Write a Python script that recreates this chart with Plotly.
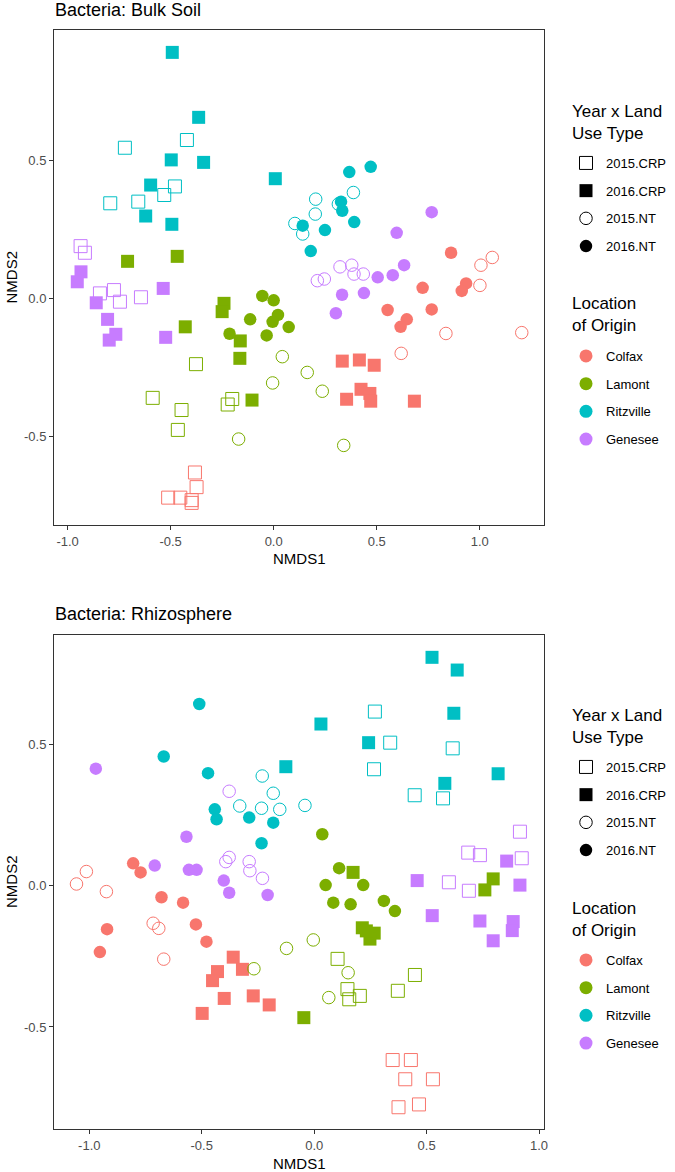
import plotly.graph_objects as go

# ---------------- data: Bacteria, Bulk Soil ----------------
TYPES = ["2015.CRP", "2016.CRP", "2015.NT", "2016.NT"]
LOCATIONS = ["Colfax", "Lamont", "Ritzville", "Genesee"]

BULK_COLFAX_X = [-0.382, -0.374, -0.512, -0.453, -0.398, -0.398,
                 0.333, 0.416, 0.488, 0.424, 0.467, 0.471, 0.354, 0.683,
                 0.836, 1.204, 0.619, 1.001, 1.006, 1.061,
                 0.723, 0.553, 0.646, 0.616, 0.767, 0.934, 0.913, 0.861]
BULK_COLFAX_Y = [-0.630, -0.683, -0.721, -0.721, -0.730, -0.740,
                 -0.227, -0.223, -0.242, -0.329, -0.344, -0.372, -0.365, -0.372,
                 -0.127, -0.124, -0.199, 0.047, 0.120, 0.148,
                 0.038, -0.042, -0.076, -0.103, -0.040, 0.054, 0.027, 0.165]
BULK_COLFAX_T = ["2015.CRP", "2015.CRP", "2015.CRP", "2015.CRP", "2015.CRP", "2015.CRP",
                 "2016.CRP", "2016.CRP", "2016.CRP", "2016.CRP", "2016.CRP", "2016.CRP", "2016.CRP", "2016.CRP",
                 "2015.NT", "2015.NT", "2015.NT", "2015.NT", "2015.NT", "2015.NT",
                 "2016.NT", "2016.NT", "2016.NT", "2016.NT", "2016.NT", "2016.NT", "2016.NT", "2016.NT"]

BULK_LAMONT_X = [-0.377, -0.587, -0.201, -0.223, -0.447, -0.465,
                 -0.709, -0.468, -0.241, -0.250, -0.429, -0.162, -0.164, -0.105,
                 0.042, -0.005, -0.170, 0.163, 0.236, 0.340,
                 -0.055, 0.000, 0.021, -0.005, -0.114, 0.073, -0.214, -0.034]
BULK_LAMONT_Y = [-0.238, -0.360, -0.364, -0.384, -0.404, -0.476,
                 0.134, 0.152, -0.018, -0.048, -0.103, -0.154, -0.217, -0.368,
                 -0.211, -0.306, -0.509, -0.268, -0.336, -0.532,
                 0.009, -0.007, -0.060, -0.085, -0.076, -0.104, -0.128, -0.134]
BULK_LAMONT_T = BULK_COLFAX_T[:]

BULK_RITZVILLE_X = [-0.421, -0.722, -0.479, -0.531, -0.793, -0.657,
                    -0.492, -0.364, -0.497, -0.340, 0.008, -0.597, -0.621, -0.494,
                    0.387, 0.204, 0.202, 0.314, 0.103, 0.141,
                    0.367, 0.471, 0.327, 0.333, 0.391, 0.249, 0.141, 0.180]
BULK_RITZVILLE_Y = [0.573, 0.545, 0.405, 0.374, 0.344, 0.350,
                    0.890, 0.655, 0.501, 0.492, 0.433, 0.410, 0.298, 0.268,
                    0.383, 0.359, 0.305, 0.341, 0.271, 0.233,
                    0.457, 0.476, 0.350, 0.317, 0.276, 0.247, 0.263, 0.171]
BULK_RITZVILLE_T = BULK_COLFAX_T[:]

BULK_GENESEE_X = [-0.937, -0.916, -0.843, -0.775, -0.746, -0.644,
                  -0.935, -0.953, -0.861, -0.536, -0.806, -0.766, -0.798, -0.524,
                  0.212, 0.246, 0.322, 0.379, 0.390, 0.435,
                  0.505, 0.578, 0.633, 0.332, 0.438, 0.302, 0.767, 0.597]
BULK_GENESEE_Y = [0.189, 0.165, 0.018, 0.030, -0.012, 0.004,
                  0.096, 0.060, -0.016, 0.036, -0.076, -0.130, -0.151, -0.141,
                  0.064, 0.070, 0.114, 0.120, 0.088, 0.088,
                  0.076, 0.084, 0.120, 0.013, 0.019, -0.054, 0.312, 0.237]
BULK_GENESEE_T = BULK_COLFAX_T[:]

# ---------------- data: Bacteria, Rhizosphere ----------------
RHIZO_COLFAX_X = [0.349, 0.430, 0.405, 0.528, 0.375, 0.466,
                  -0.360, -0.430, -0.452, -0.319, -0.400, -0.271, -0.200, -0.498,
                  -1.057, -1.013, -0.924, -0.716, -0.691, -0.669,
                  -0.805, -0.772, -0.679, -0.583, -0.526, -0.479, -0.921, -0.953]
RHIZO_COLFAX_Y = [-0.617, -0.617, -0.685, -0.685, -0.784, -0.774,
                  -0.253, -0.304, -0.336, -0.296, -0.399, -0.390, -0.422, -0.452,
                  0.006, 0.050, -0.021, -0.133, -0.151, -0.260,
                  0.079, 0.047, -0.041, -0.060, -0.137, -0.198, -0.154, -0.235]
RHIZO_COLFAX_T = BULK_COLFAX_T[:]

RHIZO_LAMONT_X = [0.104, 0.148, 0.156, 0.203, 0.372, 0.448,
                  0.173, 0.214, 0.267, 0.248, 0.232, -0.046, 0.759, 0.796,
                  -0.268, -0.123, -0.004, 0.151, 0.065,
                  0.036, 0.111, 0.051, 0.218, 0.085, 0.162, 0.310, 0.359]
RHIZO_LAMONT_Y = [-0.259, -0.366, -0.402, -0.390, -0.372, -0.316,
                  0.047, -0.149, -0.168, -0.189, -0.160, -0.467, -0.015, 0.024,
                  -0.294, -0.222, -0.192, -0.308, -0.396,
                  0.182, 0.062, 0.002, 0.002, -0.060, -0.066, -0.054, -0.090]
RHIZO_LAMONT_T = ["2015.CRP", "2015.CRP", "2015.CRP", "2015.CRP", "2015.CRP", "2015.CRP",
                  "2016.CRP", "2016.CRP", "2016.CRP", "2016.CRP", "2016.CRP", "2016.CRP", "2016.CRP", "2016.CRP",
                  "2015.NT", "2015.NT", "2015.NT", "2015.NT", "2015.NT",
                  "2016.NT", "2016.NT", "2016.NT", "2016.NT", "2016.NT", "2016.NT", "2016.NT", "2016.NT"]

RHIZO_RITZVILLE_X = [0.270, 0.338, 0.616, 0.266, 0.447, 0.573,
                     0.524, 0.636, 0.621, 0.030, 0.242, -0.126, 0.581, 0.818,
                     -0.231, -0.182, -0.331, -0.234, -0.153, -0.041,
                     -0.511, -0.669, -0.472, -0.442, -0.434, -0.289, -0.182, -0.234]
RHIZO_RITZVILLE_Y = [0.616, 0.506, 0.486, 0.412, 0.320, 0.309,
                     0.808, 0.763, 0.610, 0.572, 0.506, 0.421, 0.362, 0.396,
                     0.388, 0.327, 0.282, 0.274, 0.270, 0.284,
                     0.643, 0.457, 0.398, 0.270, 0.235, 0.241, 0.223, 0.150]
RHIZO_RITZVILLE_T = BULK_COLFAX_T[:]

RHIZO_GENESEE_X = [0.599, 0.688, 0.915, 0.685, 0.737, 0.923,
                   0.458, 0.915, 0.525, 0.737, 0.885, 0.881, 0.796, 0.856,
                   -0.378, -0.378, -0.393, -0.289, -0.286, -0.230,
                   -0.971, -0.568, -0.709, -0.557, -0.523, -0.402, -0.378, -0.207]
RHIZO_GENESEE_Y = [0.012, -0.018, 0.191, 0.117, 0.108, 0.097,
                   0.018, 0.002, -0.106, -0.125, -0.127, -0.159, -0.195, 0.087,
                   0.334, 0.100, 0.085, 0.085, 0.053, 0.026,
                   0.414, 0.173, 0.071, 0.056, 0.056, 0.018, -0.025, -0.033]
RHIZO_GENESEE_T = BULK_COLFAX_T[:]

# ---------------- styling ----------------
COLORS = {"Colfax": "#F8766D", "Lamont": "#7CAE00", "Ritzville": "#00BFC4", "Genesee": "#C77CFF"}
SYMBOLS = {"2015.CRP": "square-open", "2016.CRP": "square",
           "2015.NT": "circle-open", "2016.NT": "circle"}
SIZES = {"2015.CRP": 13, "2016.CRP": 13, "2015.NT": 12.5, "2016.NT": 12.5}
FONT = "Liberation Sans, Arial, sans-serif"

W, H = 675, 1172
XL, XR = 54, 544
PANELS = [
    dict(title="Bacteria: Bulk Soil", top=30, bottom=525,
         xr=[-1.066, 1.312], yr=[-0.820, 0.971], title_y=10, leg_off=0,
         data={"Colfax": (BULK_COLFAX_X, BULK_COLFAX_Y, BULK_COLFAX_T),
               "Lamont": (BULK_LAMONT_X, BULK_LAMONT_Y, BULK_LAMONT_T),
               "Ritzville": (BULK_RITZVILLE_X, BULK_RITZVILLE_Y, BULK_RITZVILLE_T),
               "Genesee": (BULK_GENESEE_X, BULK_GENESEE_Y, BULK_GENESEE_T)}),
    dict(title="Bacteria: Rhizosphere", top=635, bottom=1129,
         xr=[-1.157, 1.022], yr=[-0.861, 0.887], title_y=614, leg_off=604,
         data={"Colfax": (RHIZO_COLFAX_X, RHIZO_COLFAX_Y, RHIZO_COLFAX_T),
               "Lamont": (RHIZO_LAMONT_X, RHIZO_LAMONT_Y, RHIZO_LAMONT_T),
               "Ritzville": (RHIZO_RITZVILLE_X, RHIZO_RITZVILLE_Y, RHIZO_RITZVILLE_T),
               "Genesee": (RHIZO_GENESEE_X, RHIZO_GENESEE_Y, RHIZO_GENESEE_T)}),
]

fig = go.Figure()
annotations = []
layout_axes = {}
legends = {}

def legend_cfg(top_px):
    return dict(
        xref="container", yref="container",
        x=566 / W, xanchor="left", y=1 - top_px / H, yanchor="top",
        font=dict(family=FONT, size=13, color="black"),
        bgcolor="rgba(0,0,0,0)", tracegroupgap=7.8, itemsizing="trace",
        traceorder="grouped")

def text_ann(text, x, y, size, xanchor="left", angle=0):
    return dict(text=text, xref="paper", yref="paper", x=x / W, y=1 - y / H,
                xanchor=xanchor, yanchor="middle", textangle=angle, align="left",
                showarrow=False, borderpad=0,
                font=dict(family=FONT, size=size, color="black"))

for pi, p in enumerate(PANELS):
    ax = "" if pi == 0 else str(pi + 1)
    xref, yref = "x" + ax, "y" + ax
    leg_year = "legend" if pi == 0 else "legend3"
    leg_loc = "legend2" if pi == 0 else "legend4"
    off = p["leg_off"]
    for loc in LOCATIONS:
        xs, ys, ts = p["data"][loc]
        for t in TYPES:
            px = [x for x, tt in zip(xs, ts) if tt == t]
            py = [y for y, tt in zip(ys, ts) if tt == t]
            fig.add_trace(go.Scatter(
                x=px, y=py, mode="markers", xaxis=xref, yaxis=yref,
                showlegend=False, name=f"{loc} {t}",
                marker=dict(symbol=SYMBOLS[t], size=SIZES[t], color=COLORS[loc],
                            line=dict(width=1, color=COLORS[loc]) if "open" in SYMBOLS[t] else dict(width=0)),
            ))
    # legend entries
    for i, t in enumerate(TYPES):
        fig.add_trace(go.Scatter(
            x=[None], y=[None], mode="markers", xaxis=xref, yaxis=yref,
            name=t, legend=leg_year, legendgroup=f"p{pi}y{i}", showlegend=True,
            marker=dict(symbol=SYMBOLS[t], size=SIZES[t], color="black",
                        line=dict(width=1, color="black") if "open" in SYMBOLS[t] else dict(width=0)),
        ))
    for i, loc in enumerate(LOCATIONS):
        fig.add_trace(go.Scatter(
            x=[None], y=[None], mode="markers", xaxis=xref, yaxis=yref,
            name=loc, legend=leg_loc, legendgroup=f"p{pi}l{i}", showlegend=True,
            marker=dict(symbol="circle", size=13, color=COLORS[loc]),
        ))
    legends[leg_year] = legend_cfg(148 + off)
    legends[leg_loc] = legend_cfg(341 + off)
    annotations.append(text_ann("Year x Land<br>Use Type", 571, 122.5 + off, 17))
    annotations.append(text_ann("Location<br>of Origin", 571, 315 + off, 17))

    common = dict(showline=True, mirror=True, linecolor="#333333", linewidth=1,
                  showgrid=False, zeroline=False, ticks="outside", ticklen=4,
                  tickcolor="#333333", tickwidth=1, automargin=False,
                  tickfont=dict(family=FONT, size=13, color="#4D4D4D"))
    layout_axes["xaxis" + ax] = dict(
        common, domain=[XL / W, XR / W], range=p["xr"], anchor=yref,
        tickvals=[-1.0, -0.5, 0.0, 0.5, 1.0], ticktext=["-1.0", "-0.5", "0.0", "0.5", "1.0"])
    layout_axes["yaxis" + ax] = dict(
        common, domain=[1 - p["bottom"] / H, 1 - p["top"] / H], range=p["yr"], anchor=xref,
        tickvals=[-0.5, 0.0, 0.5], ticktext=["-0.5", "0.0", "0.5"])
    annotations.append(text_ann(p["title"], XL, p["title_y"], 18))
    annotations.append(text_ann("NMDS1", (XL + XR) / 2, p["bottom"] + 34, 15, xanchor="center"))
    annotations.append(text_ann("NMDS2", 11, (p["top"] + p["bottom"]) / 2, 15,
                                xanchor="center", angle=-90))

fig.update_layout(
    width=W, height=H, paper_bgcolor="white", plot_bgcolor="white",
    margin=dict(l=0, r=0, t=0, b=0, autoexpand=False), showlegend=True,
    annotations=annotations,
    **legends,
    **layout_axes,
)

fig.write_html("out.html", config={"displayModeBar": False},
               post_script="document.body.style.margin='0';")
